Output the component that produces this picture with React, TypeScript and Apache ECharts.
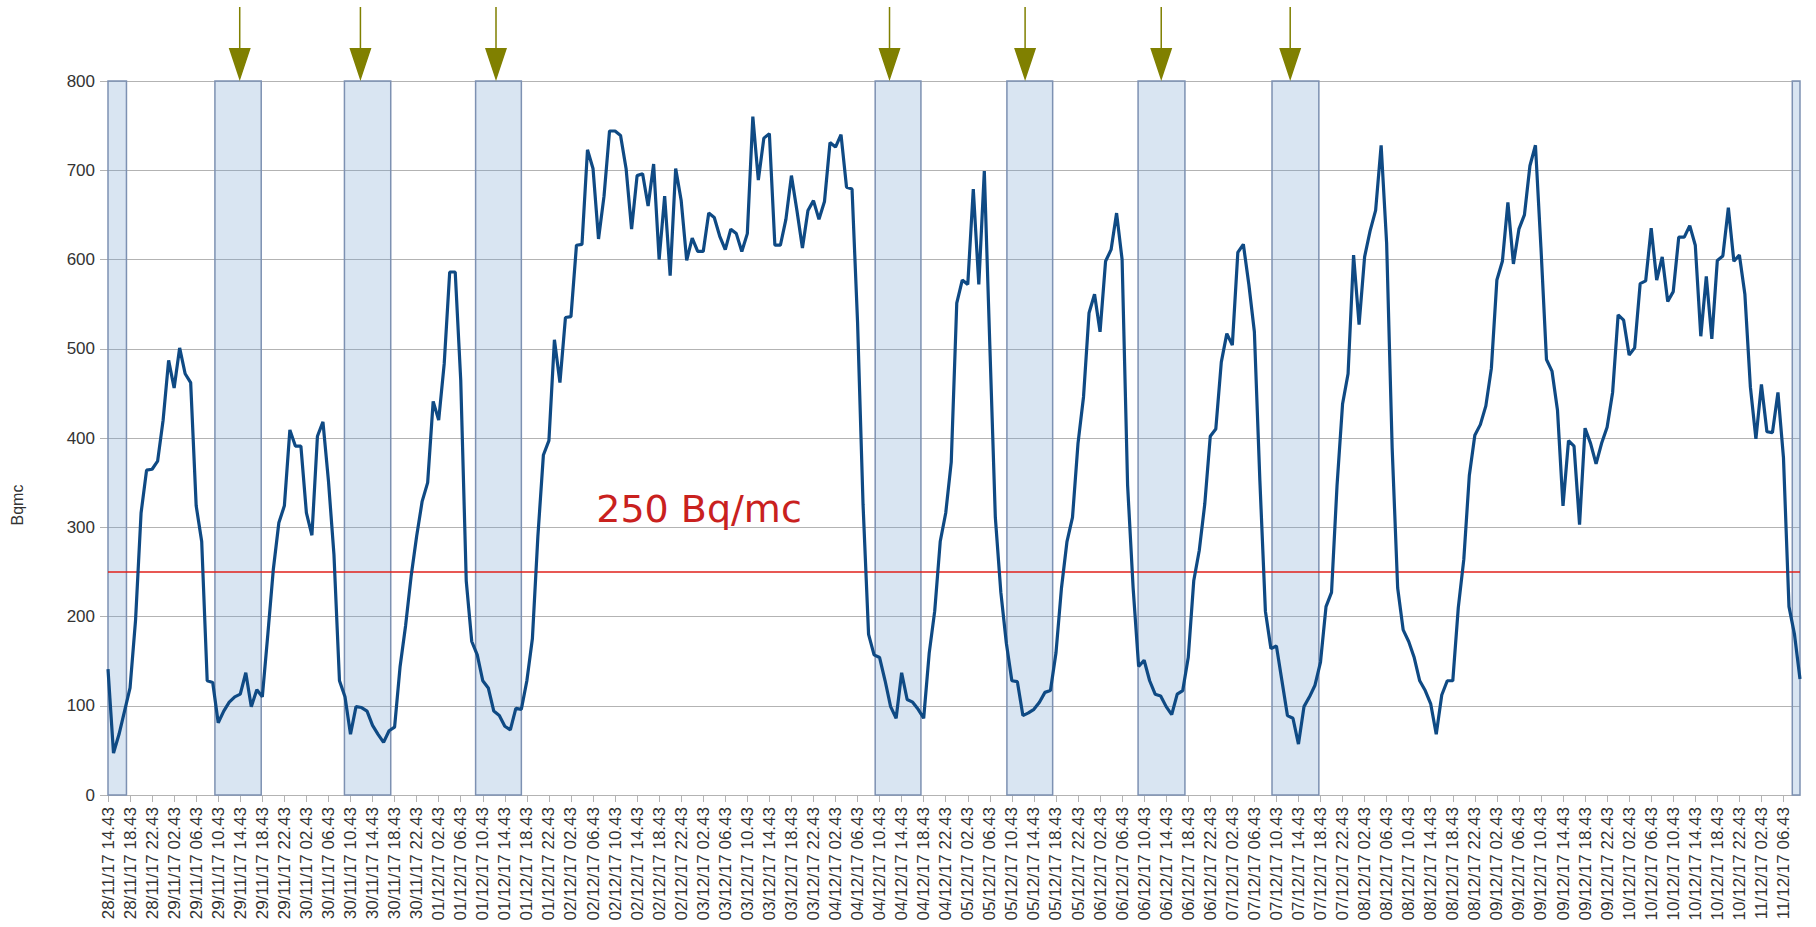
import React, { useEffect, useRef } from 'react';
import * as echarts from 'echarts';

// x-axis tick labels, one every 4 hourly readings
const TICK_LABELS = [
  '28/11/17 14.43', '28/11/17 18.43', '28/11/17 22.43',
  '29/11/17 02.43', '29/11/17 06.43', '29/11/17 10.43', '29/11/17 14.43', '29/11/17 18.43', '29/11/17 22.43',
  '30/11/17 02.43', '30/11/17 06.43', '30/11/17 10.43', '30/11/17 14.43', '30/11/17 18.43', '30/11/17 22.43',
  '01/12/17 02.43', '01/12/17 06.43', '01/12/17 10.43', '01/12/17 14.43', '01/12/17 18.43', '01/12/17 22.43',
  '02/12/17 02.43', '02/12/17 06.43', '02/12/17 10.43', '02/12/17 14.43', '02/12/17 18.43', '02/12/17 22.43',
  '03/12/17 02.43', '03/12/17 06.43', '03/12/17 10.43', '03/12/17 14.43', '03/12/17 18.43', '03/12/17 22.43',
  '04/12/17 02.43', '04/12/17 06.43', '04/12/17 10.43', '04/12/17 14.43', '04/12/17 18.43', '04/12/17 22.43',
  '05/12/17 02.43', '05/12/17 06.43', '05/12/17 10.43', '05/12/17 14.43', '05/12/17 18.43', '05/12/17 22.43',
  '06/12/17 02.43', '06/12/17 06.43', '06/12/17 10.43', '06/12/17 14.43', '06/12/17 18.43', '06/12/17 22.43',
  '07/12/17 02.43', '07/12/17 06.43', '07/12/17 10.43', '07/12/17 14.43', '07/12/17 18.43', '07/12/17 22.43',
  '08/12/17 02.43', '08/12/17 06.43', '08/12/17 10.43', '08/12/17 14.43', '08/12/17 18.43', '08/12/17 22.43',
  '09/12/17 02.43', '09/12/17 06.43', '09/12/17 10.43', '09/12/17 14.43', '09/12/17 18.43', '09/12/17 22.43',
  '10/12/17 02.43', '10/12/17 06.43', '10/12/17 10.43', '10/12/17 14.43', '10/12/17 18.43', '10/12/17 22.43',
  '11/12/17 02.43', '11/12/17 06.43',
];
const HOURS_PER_TICK = 4;

// hourly radon concentration (Bq/mc), from 28/11/17 14.43
const VALUES = [
  141, 47, 68, 94, 120, 196, 316, 364, 365, 374, 420, 487, 456, 501, 472, 462, 324, 284, 128, 126,
  81, 94, 104, 110, 113, 137, 99, 118, 110, 180, 253, 305, 324, 409, 391, 391, 316, 291, 402, 418,
  352, 269, 128, 110, 68, 99, 98, 94, 78, 68, 59, 72, 76, 144, 190, 245, 290, 329, 350, 441,
  420, 483, 586, 586, 465, 240, 172, 157, 128, 120, 94, 89, 77, 73, 97, 96, 128, 175, 290, 381,
  397, 510, 462, 535, 536, 616, 617, 723, 702, 623, 671, 744, 744, 739, 702, 634, 694, 696, 660, 707,
  600, 671, 582, 702, 666, 599, 624, 609, 609, 652, 647, 626, 611, 634, 629, 609, 629, 760, 689, 736,
  741, 616, 616, 645, 694, 655, 613, 655, 666, 645, 665, 731, 726, 740, 681, 679, 530, 325, 180, 157,
  154, 128, 99, 86, 137, 107, 104, 96, 86, 159, 206, 284, 316, 373, 551, 577, 572, 679, 572, 699,
  504, 311, 227, 170, 128, 127, 89, 92, 96, 104, 115, 117, 159, 232, 284, 311, 394, 446, 540, 561,
  519, 598, 611, 652, 600, 347, 232, 144, 151, 128, 113, 111, 99, 90, 113, 117, 154, 240, 274, 326,
  402, 410, 485, 517, 504, 608, 617, 572, 519, 352, 206, 164, 167, 128, 89, 86, 57, 99, 110, 123,
  149, 211, 227, 347, 438, 472, 605, 527, 603, 632, 655, 728, 618, 389, 232, 185, 172, 154, 128, 117,
  102, 68, 112, 128, 128, 210, 264, 358, 403, 415, 436, 478, 577, 598, 664, 595, 634, 650, 705, 728,
  613, 488, 475, 431, 324, 397, 391, 303, 411, 394, 371, 394, 412, 451, 538, 532, 493, 501, 573, 576,
  635, 577, 603, 553, 564, 625, 625, 638, 616, 514, 581, 511, 599, 604, 658, 598, 605, 561, 457, 399,
  460, 407, 406, 451, 378, 211, 180, 130,
];

// shaded time windows (in hours from the first reading)
const BAND_START = [0, 19.4, 42.9, 66.7, 139.2, 163.1, 186.9, 211.2, 305.6];
const BAND_END = [3.35, 27.8, 51.3, 75.0, 147.5, 171.4, 195.4, 219.7, 307];

// arrow annotations (hour positions)
const ARROW_HOURS = [23.9, 45.8, 70.4, 141.8, 166.4, 191.1, 214.5];

const LIMIT = 250;
const LIMIT_LABEL = '250 Bq/mc';
const LIMIT_LABEL_POS = [88.5, 320];

const Y_NAME = 'Bqmc';
const Y_MIN = 0;
const Y_MAX = 800;
const Y_STEP = 100;

const ARROW_PATH = 'path://M10.25,0 L11.75,0 L11.75,41 L22,41 L11,74 L0,41 L10.25,41 Z';

export default function App() {
  const ref = useRef<HTMLDivElement>(null);

  useEffect(() => {
    document.body.style.margin = '0';
    const chart = echarts.init(ref.current as HTMLDivElement, null, { renderer: 'svg' });
    const tickHours = TICK_LABELS.map((_, i) => i * HOURS_PER_TICK);

    chart.setOption({
      animation: false,
      backgroundColor: '#ffffff',
      grid: { left: 108, right: 16, top: 81, bottom: 132 },
      graphic: [
        {
          type: 'text',
          x: 17,
          y: 505,
          rotation: Math.PI / 2,
          style: {
            text: Y_NAME,
            fontSize: 16,
            fontFamily: 'Liberation Sans',
            fill: '#333333',
            align: 'center',
            verticalAlign: 'middle',
          },
        },
      ],
      xAxis: {
        type: 'value',
        min: 0,
        max: VALUES.length - 1,
        splitLine: { show: false },
        axisLine: { show: true, lineStyle: { color: '#b3b3b3', width: 1 } },
        axisTick: {
          show: true,
          customValues: tickHours,
          length: 7,
          lineStyle: { color: '#b3b3b3' },
        },
        axisLabel: {
          customValues: tickHours,
          rotate: 90,
          margin: 12,
          fontSize: 17,
          color: '#333333',
          fontFamily: 'Liberation Sans',
          formatter: (v: number) => TICK_LABELS[Math.round(v / HOURS_PER_TICK)] ?? '',
        },
      },
      yAxis: {
        type: 'value',
        min: Y_MIN,
        max: Y_MAX,
        interval: Y_STEP,
        axisLine: { show: false },
        axisTick: { show: true, length: 8, lineStyle: { color: '#b3b3b3' } },
        splitLine: { show: true, lineStyle: { color: '#b3b3b3', width: 1 } },
        axisLabel: {
          margin: 13,
          fontSize: 17,
          color: '#333333',
          fontFamily: 'Liberation Sans',
        },
      },
      series: [
        {
          type: 'line',
          data: VALUES.map((v, i) => [i, v]),
          showSymbol: false,
          symbol: 'none',
          lineStyle: { color: '#0f4a84', width: 3.2 },
          z: 5,
          markArea: {
            silent: true,
            itemStyle: {
              color: 'rgba(114,159,207,0.27)',
              borderColor: '#7d91b2',
              borderWidth: 1.5,
            },
            data: BAND_START.map((s, i) => [
              { xAxis: s, yAxis: Y_MIN },
              { xAxis: BAND_END[i], yAxis: Y_MAX },
            ]),
          },
          markLine: {
            silent: true,
            symbol: ['none', 'none'],
            label: { show: false },
            lineStyle: { color: '#e0211b', width: 1.5, type: 'solid' },
            data: [{ yAxis: LIMIT }],
          },
          markPoint: {
            silent: true,
            data: [
              ...ARROW_HOURS.map((h) => ({
                coord: [h, Y_MAX],
                symbol: ARROW_PATH,
                symbolSize: [22, 74],
                symbolOffset: [0, -37],
                itemStyle: { color: '#808000' },
                label: { show: false },
              })),
              {
                coord: LIMIT_LABEL_POS,
                symbol: 'circle',
                symbolSize: 1,
                itemStyle: { color: 'rgba(0,0,0,0)' },
                label: {
                  show: true,
                  position: 'right',
                  distance: 0,
                  formatter: LIMIT_LABEL,
                  color: '#c9211e',
                  fontSize: 38,
                  fontFamily: 'DejaVu Sans',
                },
              },
            ],
          },
        },
      ],
    });

    return () => chart.dispose();
  }, []);

  return <div ref={ref} style={{ width: 1816, height: 927 }} />;
}
